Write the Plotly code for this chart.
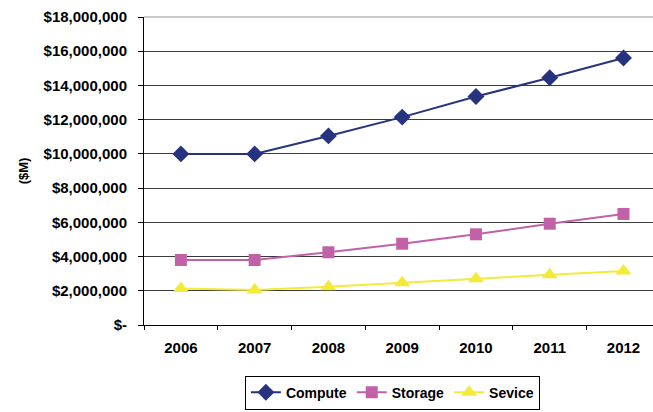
import plotly.graph_objects as go

years = ["2006", "2007", "2008", "2009", "2010", "2011", "2012"]
compute = [10000000, 10000000, 11050000, 12150000, 13350000, 14450000, 15600000]
storage = [3800000, 3800000, 4250000, 4750000, 5300000, 5920000, 6490000]
sevice = [2140000, 2050000, 2240000, 2470000, 2710000, 2940000, 3160000]

tick_vals = [0, 2000000, 4000000, 6000000, 8000000, 10000000, 12000000, 14000000, 16000000, 18000000]
tick_text = ["$-", "$2,000,000", "$4,000,000", "$6,000,000", "$8,000,000", "$10,000,000",
             "$12,000,000", "$14,000,000", "$16,000,000", "$18,000,000"]

FAM = "Liberation Sans, Arial, sans-serif"

fig = go.Figure()
fig.add_trace(go.Scatter(x=years, y=compute, name="Compute", mode="lines+markers",
                         line=dict(color="#27337F", width=2),
                         marker=dict(symbol="diamond", size=13, color="#27337F")))
fig.add_trace(go.Scatter(x=years, y=storage, name="Storage", mode="lines+markers",
                         line=dict(color="#C162A8", width=2),
                         marker=dict(symbol="square", size=12, color="#C162A8")))
fig.add_trace(go.Scatter(x=years, y=sevice, name="Sevice", mode="lines+markers",
                         line=dict(color="#F3EA3A", width=2),
                         marker=dict(symbol="triangle-up", size=14, color="#F3EA3A")))

fig.update_layout(
    width=653, height=412,
    margin=dict(l=144, r=0, t=17, b=87),
    paper_bgcolor="white", plot_bgcolor="white",
    font=dict(family=FAM, size=15, color="#000000"),
    showlegend=True,
    legend=dict(orientation="h", x=0.488, xanchor="center", y=-0.275, yanchor="bottom",
                bordercolor="#000000", borderwidth=1,
                font=dict(family=FAM, size=14, weight="bold"),
                itemwidth=30, tracegroupgap=0),
    xaxis=dict(type="category", range=[-0.5, 6.4], showgrid=False,
               showline=True, linecolor="#000000", linewidth=1,
               ticks="outside", tickson="boundaries", ticklen=4, tickcolor="#000000",
               tickfont=dict(size=15, family=FAM, weight="bold"),
               ticklabelstandoff=9),
    yaxis=dict(range=[0, 18000000], tickvals=tick_vals, ticktext=tick_text,
               showgrid=True, gridcolor="#3a3a3a", gridwidth=1,
               showline=True, linecolor="#000000", linewidth=1,
               ticks="outside", ticklen=5, tickcolor="#000000",
               zeroline=False,
               tickfont=dict(size=15, family=FAM, weight="bold"),
               ticklabelstandoff=8,
               title=dict(text="($M)", font=dict(size=13, family=FAM, weight="bold"), standoff=12)),
    shapes=[dict(type="line", xref="paper", yref="paper", x0=0, x1=1, y0=1, y1=1,
                 line=dict(color="#C8C8C8", width=2), layer="above")],
)

fig.write_html("out.html")
